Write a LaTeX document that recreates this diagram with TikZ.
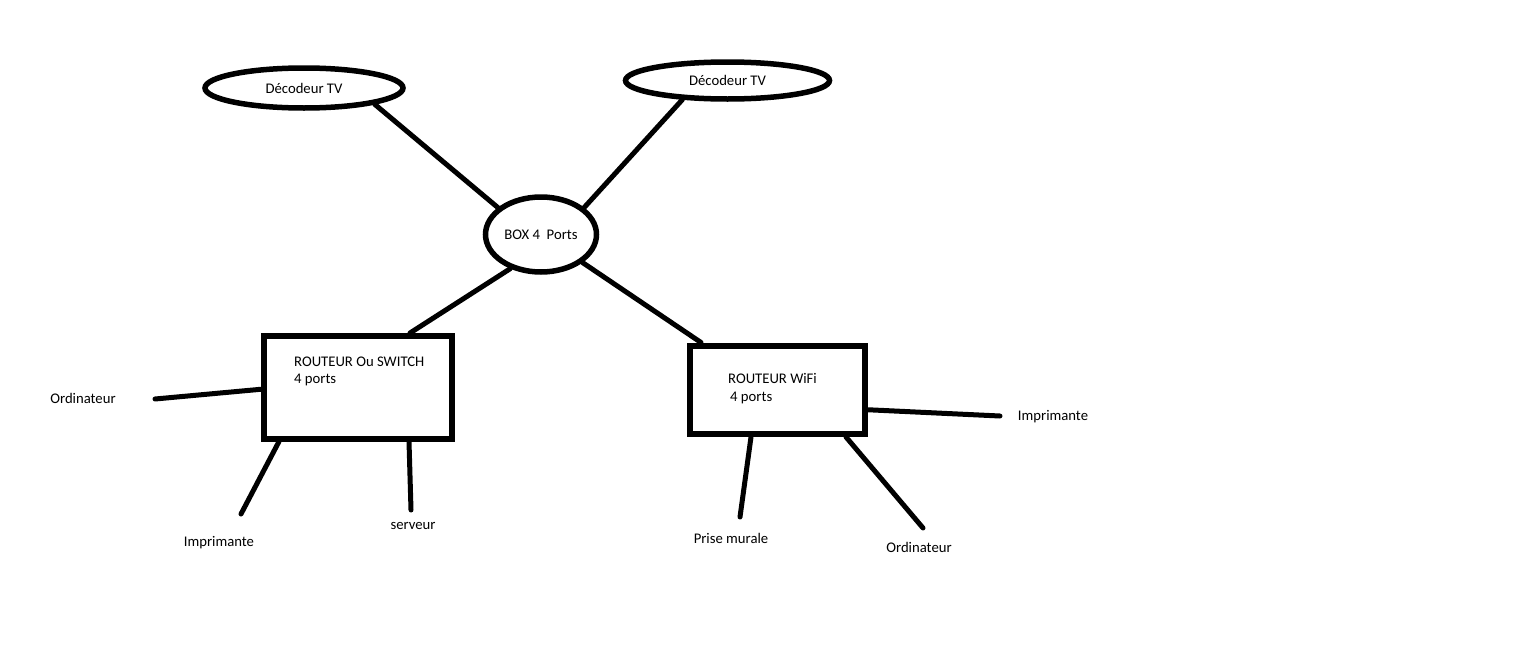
\documentclass[tikz,border=0pt]{standalone}
\usepackage{fontspec}
\setmainfont{Carlito}
\usetikzlibrary{shapes.geometric}

\begin{document}
\begin{tikzpicture}[x=1pt, y=-1pt,
      every node/.style={font=\fontsize{14.7}{17.6}\selectfont},
      tv/.style={draw, ellipse, line width=5.5pt, inner sep=0pt},
      dev/.style={draw, rectangle, line width=6pt, inner sep=0pt},
      cable/.style={line width=5pt, line cap=round},
      lbl/.style={inner sep=0pt}]

    \fill[white] (0,0) rectangle (1536,648);

    \node[tv, minimum width=198pt, minimum height=40pt] (dec1) at (304,88) {Décodeur TV};
    \node[tv, minimum width=204pt, minimum height=37pt] (dec2) at (727.5,80.5) {Décodeur TV};
    \node[tv, minimum width=111pt, minimum height=75pt] (box) at (541,234.5) {BOX 4\ \ Ports};

    \node[dev, minimum width=187.5pt, minimum height=102.5pt] (rsw) at (357.75,387.25) {};
    \node[dev, minimum width=175pt, minimum height=88.5pt] (rwifi) at (777.5,389.75) {};

    \node[lbl, anchor=base west] (rsw1) at (294,366.5) {ROUTEUR Ou SWITCH};
    \node[lbl, anchor=base west] (rsw2) at (294,383) {4 ports};
    \node[lbl, anchor=base west] (rwifi1) at (728,383.5) {ROUTEUR WiFi};
    \node[lbl, anchor=base west] (rwifi2) at (730,401) {4 ports};

    \node[lbl] (ord1) at (83,398) {Ordinateur};
    \node[lbl] (imp1) at (219,543) {Imprimante};
    \node[lbl] (serv) at (413,526) {serveur};
    \node[lbl] (prise) at (731,538) {Prise murale};
    \node[lbl] (ord2) at (919,547) {Ordinateur};
    \node[lbl] (imp2) at (1053,417) {Imprimante};

    \coordinate (ord1e) at (155,399);
    \coordinate (imp1e) at (241,514);
    \coordinate (serve) at (411,510);
    \coordinate (prisee) at (740,517);
    \coordinate (ord2e) at (923,528);
    \coordinate (imp2e) at (1000,416);

    \draw[cable] (dec1.-13) -- (box.148);
    \draw[cable] (dec2.-157) -- (box.32);
    \draw[cable] (box.-132) -- ([xshift=149pt]rsw.north west);
    \draw[cable] (box.-34) -- ([xshift=14pt]rwifi.north west);
    \draw[cable] ([yshift=-2pt]rsw.west) -- (ord1e);
    \draw[cable] ([xshift=18pt]rsw.south west) -- (imp1e);
    \draw[cable] ([xshift=148pt]rsw.south west) -- (serve);
    \draw[cable] ([xshift=64pt]rwifi.south west) -- (prisee);
    \draw[cable] ([xshift=159pt]rwifi.south west) -- (ord2e);
    \draw[cable] ([yshift=-20pt]rwifi.east) -- (imp2e);
  \end{tikzpicture}
\end{document}
